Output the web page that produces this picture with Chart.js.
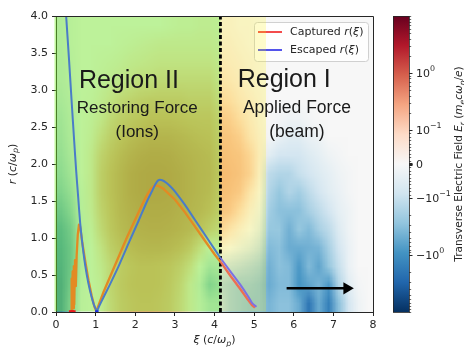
<!DOCTYPE html>
<html>
<head>
<meta charset="utf-8">
<script src="https://cdn.jsdelivr.net/npm/chart.js@4.4.0/dist/chart.umd.min.js"></script>
<style>
  html, body { margin: 0; padding: 0; background: #fff; }
  canvas { display: block; }
</style>
</head>
<body>
<canvas id="chart" width="464" height="347"></canvas>
<script>
// axis ticks
const xiTicks = [0, 1, 2, 3, 4, 5, 6, 7, 8];
const rTicks = [0, 0.5, 1, 1.5, 2, 2.5, 3, 3.5, 4];

// colorbar ticks (symlog field scale)
const cbTicks = [1, 0.1, 0, -0.1, -1];
const cbLabels = [['10', '0'], ['10', '\u22121'], ['0', ''], ['\u221210', '\u22121'], ['\u221210', '0']];

// region boundaries (xi)
const regionSplit = 4.15;
const beamEdge = 5.3;

// trajectories
const capturedXi = [0.38,0.39,0.40,0.42,0.43,0.45,0.46,0.48,0.50,0.52,0.55,0.58,0.61,0.66,0.74,0.82,0.90,0.97,1.02,1.08,1.20,1.40,1.60,1.80,2.00,2.19,2.32,2.39,2.46,2.53,2.60,2.70,2.80,3.00,3.25,3.50,3.75,4.00,4.15,4.40,4.65,4.85,4.95,5.02];
const capturedR  = [0.00,0.45,0.02,0.55,0.05,0.62,0.10,0.70,0.35,0.75,1.05,1.18,1.15,0.95,0.68,0.43,0.22,0.07,0.01,0.10,0.27,0.52,0.77,1.02,1.25,1.47,1.60,1.66,1.70,1.71,1.70,1.67,1.62,1.52,1.35,1.16,0.97,0.78,0.68,0.49,0.31,0.16,0.09,0.06];
const escapedXi  = [0.25,0.33,0.40,0.46,0.51,0.56,0.61,0.67,0.74,0.82,0.90,0.97,1.04,1.09,1.20,1.35,1.59,1.85,2.09,2.30,2.43,2.50,2.58,2.68,2.80,2.90,3.00,3.25,3.50,3.75,4.00,4.15,4.40,4.65,4.85,4.95,5.06];
const escapedR   = [4.05,3.40,2.80,2.30,1.90,1.55,1.20,0.90,0.62,0.38,0.20,0.08,0.02,0.08,0.20,0.36,0.63,0.95,1.24,1.50,1.64,1.72,1.78,1.78,1.74,1.69,1.63,1.45,1.25,1.05,0.85,0.73,0.55,0.37,0.21,0.12,0.07];
const capturedStartXi = [0.37, 0.41, 0.45];
const escapedStartXi = [1.03];

// beam direction arrow
const arrowXi = [5.82, 7.34];
const arrowR = [0.32, 0.32];

// transverse field E_r on a grid: xi 0..8 (32 columns), r 4..0 (16 rows, top row first)
const fieldXiRange = [0, 8];
const fieldRRange = [0, 4];
const fieldEr = [
  [-0.05,-0.02,0,0,0,0,0,0,0,0,0,0.01,0.02,0.02,0.03,0.03, 0.02,0.02,0.01,0.01,0, 0,0,0,0,0,0,0,0,0,0,0],
  [-0.05,-0.02,0,0,0,0,0.01,0.02,0.03,0.04,0.05,0.05,0.05,0.05,0.05,0.05, 0.03,0.03,0.02,0.01,0.01, 0,0,0,0,0,0,0,0,0,0,0],
  [-0.06,-0.03,0,0,0.01,0.02,0.03,0.05,0.06,0.07,0.08,0.08,0.08,0.08,0.08,0.08, 0.05,0.04,0.03,0.02,0.01, 0,0,0,0,0,0,0,0,0,0,0],
  [-0.06,-0.03,0,0,0.02,0.04,0.06,0.08,0.1,0.1,0.12,0.12,0.12,0.12,0.12,0.12, 0.07,0.06,0.04,0.02,0.01, 0,0,0,0,0,0,0,0,0,0,0],
  [-0.08,-0.04,0,0.01,0.04,0.08,0.12,0.15,0.18,0.2,0.2,0.2,0.2,0.18,0.18,0.18, 0.1,0.09,0.06,0.04,0.02, 0,0,0,0,0,0,0,0,0,0,0],
  [-0.1,-0.05,0,0.02,0.06,0.12,0.18,0.22,0.26,0.3,0.3,0.3,0.28,0.26,0.25,0.25, 0.15,0.13,0.09,0.05,0.02, 0,-0.01,-0.02,-0.02,-0.01,0,0,0,0,0,0],
  [-0.12,-0.06,0,0.03,0.1,0.18,0.26,0.34,0.4,0.45,0.45,0.44,0.4,0.36,0.32,0.3, 0.18,0.17,0.13,0.07,0.03, -0.01,-0.03,-0.05,-0.05,-0.03,-0.02,0,0,0,0,0],
  [-0.15,-0.08,0,0.05,0.15,0.25,0.36,0.46,0.54,0.58,0.58,0.56,0.5,0.45,0.4,0.36, 0.21,0.19,0.17,0.11,0.04, -0.05,-0.08,-0.08,-0.08,-0.06,-0.04,-0.02,-0.01,0,0,0],
  [-0.2,-0.1,0,0.05,0.18,0.3,0.42,0.55,0.62,0.65,0.65,0.62,0.56,0.48,0.42,0.38, 0.23,0.21,0.18,0.12,0.03, -0.12,-0.15,-0.15,-0.1,-0.08,-0.06,-0.04,-0.02,-0.01,0,0],
  [-0.3,-0.15,-0.02,0.05,0.18,0.3,0.42,0.55,0.62,0.65,0.65,0.62,0.56,0.48,0.42,0.36, 0.21,0.19,0.15,0.07,0.01, -0.15,-0.25,-0.15,-0.2,-0.12,-0.08,-0.05,-0.03,-0.01,0,0],
  [-0.5,-0.25,-0.03,0.04,0.15,0.27,0.4,0.5,0.56,0.58,0.58,0.56,0.5,0.44,0.38,0.3, 0.18,0.15,0.09,0.03,-0.02, -0.2,-0.3,-0.3,-0.3,-0.18,-0.12,-0.08,-0.04,-0.02,0,0],
  [-0.8,-0.4,-0.05,0.02,0.12,0.24,0.36,0.45,0.5,0.52,0.52,0.5,0.45,0.38,0.28,0.18, 0.11,0.07,0.03,0,-0.05, -0.25,-0.25,-0.45,-0.25,-0.35,-0.18,-0.12,-0.06,-0.02,0,0],
  [-1.0,-0.5,-0.05,0,0.08,0.18,0.28,0.35,0.4,0.42,0.42,0.38,0.32,0.22,0.1,0, 0.02,0,-0.03,-0.06,-0.1, -0.35,-0.3,-0.5,-0.5,-0.45,-0.4,-0.18,-0.08,-0.03,0,0],
  [-1.2,-0.5,-0.05,0,0.05,0.12,0.2,0.26,0.3,0.3,0.28,0.25,0.18,0.1,0,-0.1, -0.08,-0.1,-0.12,-0.15,-0.2, -0.45,-0.3,-0.35,-0.8,-0.35,-0.6,-0.25,-0.1,-0.03,0,0],
  [-1.5,-0.4,-0.03,0,0.03,0.14,0.22,0.28,0.3,0.3,0.28,0.22,0.14,0.05,-0.05,-0.3, -0.15,-0.2,-0.25,-0.25,-0.3, -0.5,-0.35,-0.35,-0.9,-0.6,-0.4,-0.8,-0.15,-0.05,-0.01,0],
  [-1.5,-0.3,-0.02,0,0.03,0.12,0.2,0.25,0.28,0.28,0.25,0.2,0.12,0.05,-0.03,-0.1, -0.1,-0.2,-0.25,-0.3,-0.3, -0.4,-0.3,-0.3,-0.5,-2.0,-0.5,-1.5,-0.3,-0.08,-0.02,0]
];

// RdBu_r colormap with symlog norm
const rdbu = ['#053061','#2166ac','#4393c3','#92c5de','#d1e5f0','#f7f7f7','#fddbc7','#f4a582','#d6604d','#b2182b','#67001f'];
const rdbuRgb = rdbu.map(h => [1, 3, 5].map(i => parseInt(h.substr(i, 2), 16)));
const LINTHRESH = 0.1, LINSCALE = 0.6, VMAX = 10;
function symlog(v) {
  const a = Math.abs(v);
  const s = a <= LINTHRESH ? LINSCALE * a / LINTHRESH : LINSCALE + Math.log10(a / LINTHRESH);
  return Math.sign(v) * Math.min(1, s / (LINSCALE + Math.log10(VMAX / LINTHRESH)));
}
function cmap(v) {
  const p = (symlog(v) + 1) / 2 * (rdbuRgb.length - 1);
  const i = Math.min(rdbuRgb.length - 2, Math.floor(p)), t = p - i;
  return rdbuRgb[i].map((c, k) => Math.round(c + (rdbuRgb[i + 1][k] - c) * t));
}

const TXT = '#262626';
const MONO = '"DejaVu Sans", sans-serif';
const HELV = '"Liberation Sans", Arial, sans-serif';

// draw a run of text pieces: style '' normal, 'i' italic, 's' italic subscript, 'u' superscript
function drawRuns(ctx, parts, x, y, size, align) {
  const fontOf = st => (st === 'i' || st === 's' ? 'italic ' : '') + (st === 's' || st === 'u' ? size * 0.72 : size) + 'px ' + MONO;
  let w = 0;
  parts.forEach(([t, st]) => { ctx.font = fontOf(st); w += ctx.measureText(t).width; });
  let cx = align === 'center' ? x - w / 2 : x;
  ctx.textAlign = 'left';
  parts.forEach(([t, st]) => {
    ctx.font = fontOf(st);
    const dy = st === 's' ? size * 0.25 : st === 'u' ? -size * 0.42 : 0;
    ctx.fillText(t, cx, y + dy);
    cx += ctx.measureText(t).width;
  });
  return w;
}

const zip = (xs, ys) => xs.map((x, i) => ({ x: x, y: ys[i] }));

const fieldPlugin = {
  id: 'field',
  beforeDraw(chart) {
    const ctx = chart.ctx, xs = chart.scales.x, ys = chart.scales.y;
    ctx.save();
    ctx.fillStyle = '#fff';
    ctx.fillRect(0, 0, chart.width, chart.height);
    const rows = fieldEr.length, cols = fieldEr[0].length;
    const off = document.createElement('canvas');
    off.width = cols; off.height = rows;
    const octx = off.getContext('2d');
    const img = octx.createImageData(cols, rows);
    fieldEr.forEach((row, j) => row.forEach((v, i) => {
      const c = cmap(v), k = (j * cols + i) * 4;
      img.data[k] = c[0]; img.data[k + 1] = c[1]; img.data[k + 2] = c[2]; img.data[k + 3] = 255;
    }));
    octx.putImageData(img, 0, 0);
    const x0 = xs.getPixelForValue(fieldXiRange[0]), x1 = xs.getPixelForValue(fieldXiRange[1]);
    const y0 = ys.getPixelForValue(fieldRRange[1]), y1 = ys.getPixelForValue(fieldRRange[0]);
    ctx.imageSmoothingEnabled = true;
    ctx.imageSmoothingQuality = 'low';
    ctx.drawImage(off, x0, y0, x1 - x0, y1 - y0);
    ctx.restore();
  },
  beforeDatasetsDraw(chart) {
    const ctx = chart.ctx, a = chart.chartArea, xs = chart.scales.x;
    ctx.save();
    // legend box
    const lx = a.right - 119, ly = a.top + 6, lw = 114, lh = 39;
    ctx.fillStyle = 'rgba(255,255,255,0.8)';
    ctx.strokeStyle = '#d0d0d0';
    ctx.lineWidth = 1;
    ctx.beginPath();
    ctx.roundRect(lx + 0.5, ly + 0.5, lw, lh, 3);
    ctx.fill(); ctx.stroke();
    const items = [['Captured ', '#f01e1e'], ['Escaped ', '#2828e6']];
    items.forEach(([name, col], i) => {
      const yy = ly + 10 + i * 18;
      ctx.strokeStyle = col; ctx.lineWidth = 1.6;
      ctx.beginPath(); ctx.moveTo(lx + 4, yy); ctx.lineTo(lx + 28, yy); ctx.stroke();
      ctx.fillStyle = TXT;
      ctx.textBaseline = 'middle';
      drawRuns(ctx, [[name, ''], ['r', 'i'], ['(', ''], ['\u03be', 'i'], [')', '']], lx + 36, yy, 11, 'left');
    });
    // translucent region shading
    const xa = xs.getPixelForValue(0), xb = xs.getPixelForValue(regionSplit), xc = xs.getPixelForValue(beamEdge);
    ctx.fillStyle = 'rgba(118,236,40,0.45)';
    ctx.fillRect(xa - 1.5, a.top + 1, xb - xa + 1.5, a.bottom - a.top - 1.5);
    ctx.fillStyle = 'rgba(255,245,0,0.2)';
    ctx.fillRect(xb, a.top + 1, xc - xb, a.bottom - a.top - 1.5);
    ctx.restore();
  },
  afterDraw(chart) {
    const ctx = chart.ctx, a = chart.chartArea, xs = chart.scales.x, ys = chart.scales.y;
    ctx.save();
    // top and right spines
    ctx.strokeStyle = TXT; ctx.lineWidth = 1;
    ctx.beginPath();
    ctx.moveTo(a.left, a.top + 0.5); ctx.lineTo(a.right + 0.5, a.top + 0.5); ctx.lineTo(a.right + 0.5, a.bottom);
    ctx.stroke();

    // annotations
    ctx.fillStyle = '#1a1a1a';
    ctx.textAlign = 'center';
    ctx.textBaseline = 'alphabetic';
    const note = (t, xi, r, size) => {
      ctx.font = size + 'px ' + HELV;
      ctx.fillText(t, xs.getPixelForValue(xi), ys.getPixelForValue(r));
    };
    note('Region II', 1.84, 3.03, 25);
    note('Restoring Force', 2.05, 2.69, 17);
    note('(Ions)', 2.05, 2.36, 17);
    note('Region I', 5.76, 3.04, 25);
    note('Applied Force', 6.08, 2.69, 17.5);
    note('(beam)', 6.08, 2.36, 17.5);

    // axis titles
    ctx.fillStyle = TXT;
    ctx.textBaseline = 'alphabetic';
    drawRuns(ctx, [['\u03be', 'i'], [' (', ''], ['c', 'i'], ['/', ''], ['\u03c9', 'i'], ['p', 's'], [')', '']],
      (a.left + a.right) / 2, 343, 11, 'center');
    ctx.save();
    ctx.translate(15.5, (a.top + a.bottom) / 2);
    ctx.rotate(-Math.PI / 2);
    drawRuns(ctx, [['r', 'i'], [' (', ''], ['c', 'i'], ['/', ''], ['\u03c9', 'i'], ['p', 's'], [')', '']], 0, 0, 11, 'center');
    ctx.restore();

    // colorbar
    const cbL = a.right + 20, cbW = 16, cbT = a.top, cbB = a.bottom;
    const cbY = v => (cbT + cbB) / 2 - symlog(v) * (cbB - cbT) / 2;
    const g = ctx.createLinearGradient(0, cbB, 0, cbT);
    rdbu.forEach((c, i) => g.addColorStop(i / (rdbu.length - 1), c));
    ctx.fillStyle = g;
    ctx.fillRect(cbL, cbT, cbW, cbB - cbT);
    ctx.fillStyle = TXT;
    ctx.strokeStyle = TXT; ctx.lineWidth = 0.8;
    ctx.strokeRect(cbL + 0.5, cbT + 0.5, cbW, cbB - cbT);
    // minor ticks
    const minors = [];
    for (let m = 1; m <= 9; m++) minors.push(m * 0.01);
    [0.1, 1].forEach(d => { for (let m = 2; m <= 9; m++) minors.push(m * d); });
    minors.push(10);
    ctx.lineWidth = 0.7;
    minors.forEach(v => [v, -v].forEach(s => {
      const y = Math.round(cbY(s)) + 0.5;
      ctx.beginPath(); ctx.moveTo(cbL + cbW, y); ctx.lineTo(cbL + cbW + 2.2, y); ctx.stroke();
    }));
    ctx.lineWidth = 1;
    ctx.textBaseline = 'middle';
    cbTicks.forEach((v, i) => {
      const y = Math.round(cbY(v)) + 0.5;
      ctx.beginPath(); ctx.moveTo(cbL + cbW, y); ctx.lineTo(cbL + cbW + 3.5, y); ctx.stroke();
      const [base, exp] = cbLabels[i];
      const parts = [[base, '']];
      if (exp) parts.push([exp, 'u']);
      drawRuns(ctx, parts, cbL + cbW + 7, y + 0.5, 11, 'left');
    });
    ctx.fillRect(cbL + cbW, Math.round(cbY(0)) - 1, 3.5, 3);
    // colorbar label
    ctx.save();
    ctx.translate(462, (cbT + cbB) / 2);
    ctx.rotate(-Math.PI / 2);
    ctx.textBaseline = 'alphabetic';
    drawRuns(ctx, [['Transverse Electric Field ', ''], ['E', 'i'], ['r', 's'], [' (', ''], ['m', 'i'], ['e', 's'], ['c\u03c9', 'i'], ['p', 's'], ['/', ''], ['e', 'i'], [')', '']],
      0, 0, 10.5, 'center');
    ctx.restore();
    ctx.restore();
  }
};

const axisFont = { family: 'DejaVu Sans', size: 11 };

new Chart(document.getElementById('chart'), {
  type: 'scatter',
  data: {
    datasets: [
      {
        label: 'Captured r(\u03be)',
        data: zip(capturedXi, capturedR),
        showLine: true,
        pointRadius: 0,
        borderWidth: 2.3,
        borderJoinStyle: 'round',
        borderColor: '#e38a23',
        segment: { borderColor: c => c.p0.parsed.x < regionSplit - 1e-6 ? '#e38a23' : '#ee6d52' },
        order: 2
      },
      {
        label: 'Escaped r(\u03be)',
        data: zip(escapedXi, escapedR),
        showLine: true,
        pointRadius: 0,
        borderWidth: 2,
        borderJoinStyle: 'round',
        tension: 0.2,
        borderColor: '#4a7cc8',
        segment: { borderColor: c => c.p0.parsed.x < regionSplit - 1e-6 ? '#4a7cc8' : '#7c70e4' },
        order: 1
      },
      {
        label: 'captured start',
        data: capturedStartXi.map(x => ({ x: x, y: 0 })),
        pointStyle: 'rect',
        pointRadius: 2.5,
        backgroundColor: '#e81c1c',
        borderWidth: 0,
        order: 0
      },
      {
        label: 'escaped start',
        data: escapedStartXi.map(x => ({ x: x, y: 0 })),
        pointStyle: 'rect',
        pointRadius: 2.5,
        backgroundColor: '#1a2ee0',
        borderWidth: 0,
        order: 0
      },
      {
        label: 'boundary',
        data: [{ x: regionSplit, y: 0 }, { x: regionSplit, y: 4 }],
        showLine: true,
        pointRadius: 0,
        borderColor: '#000',
        borderWidth: 2.8,
        borderDash: [4, 2.5],
        order: 3
      },
      {
        label: 'beam',
        data: zip(arrowXi, arrowR),
        showLine: true,
        borderColor: '#000',
        borderWidth: 2.6,
        backgroundColor: '#000',
        pointStyle: 'triangle',
        pointRotation: 90,
        pointRadius: [0, 7],
        pointBorderWidth: 0,
        order: 0
      }
    ]
  },
  options: {
    responsive: false,
    animation: false,
    devicePixelRatio: 1,
    layout: { padding: { top: 16, right: 91, left: 0, bottom: 0 } },
    plugins: { legend: { display: false }, tooltip: { enabled: false } },
    scales: {
      x: {
        type: 'linear',
        min: 0, max: 8,
        afterBuildTicks: s => { s.ticks = xiTicks.map(v => ({ value: v })); },
        afterFit: s => { s.height = 35; },
        ticks: { color: TXT, font: axisFont, padding: 3, maxRotation: 0, callback: v => String(v) },
        grid: { drawOnChartArea: false, tickLength: 4, color: TXT },
        border: { color: TXT, width: 1 }
      },
      y: {
        type: 'linear',
        min: 0, max: 4,
        afterBuildTicks: s => { s.ticks = rTicks.map(v => ({ value: v })); },
        afterFit: s => { s.width = 56; },
        ticks: { color: TXT, font: axisFont, padding: 4, callback: v => v.toFixed(1) },
        grid: { drawOnChartArea: false, tickLength: 4, color: TXT },
        border: { color: TXT, width: 1 }
      }
    }
  },
  plugins: [fieldPlugin]
});
</script>
</body>
</html>
